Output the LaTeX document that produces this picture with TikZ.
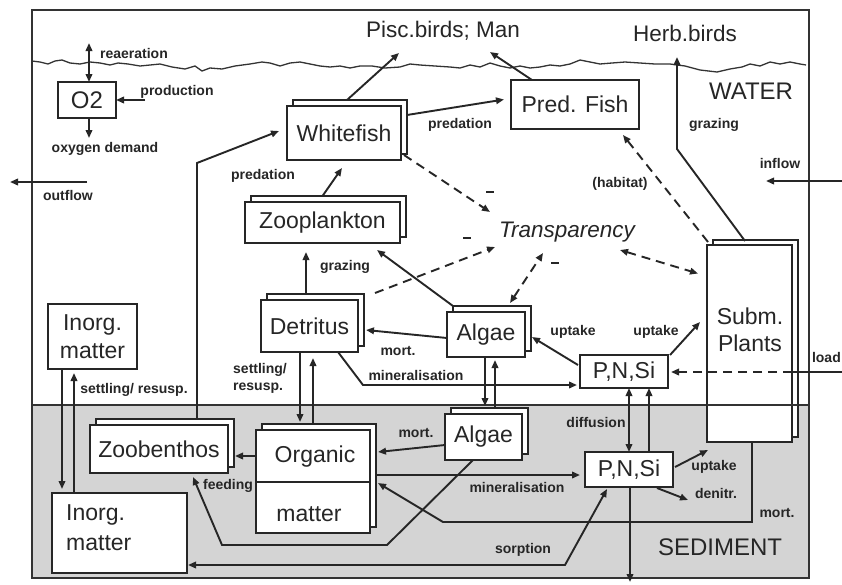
\documentclass[tikz,border=0pt]{standalone}
\usepackage{fontspec}
\setmainfont{Liberation Sans}
\usetikzlibrary{calc,arrows.meta,shadows}
\begin{document}
\begin{tikzpicture}[x=1pt,y=-1pt,
  bx/.style={draw=black!85, line width=2.3pt, fill=white, inner sep=0pt, outer sep=0pt, text=black!85, font=\fontsize{23}{27}\selectfont},
  stack/.style={copy shadow={shadow xshift=6pt, shadow yshift=6pt, draw=black!85, fill=white, line width=2.3pt}},
  arr/.style={draw=black!85, line width=1.9pt, -{Triangle[length=8pt,width=6.5pt]}},
  arrboth/.style={draw=black!85, line width=1.9pt, {Triangle[length=8pt,width=6.5pt]}-{Triangle[length=8pt,width=6.5pt]}},
  darr/.style={arr, dash pattern=on 9pt off 6pt},
  darrboth/.style={arrboth, dash pattern=on 9pt off 6pt},
  plain/.style={draw=black!85, line width=1.9pt},
  lbl/.style={inner sep=0pt, text=black!85, font=\fontsize{14}{17}\selectfont\bfseries},
  big/.style={inner sep=0pt, text=black!85, font=\fontsize{22.5}{26}\selectfont},
  frame/.style={draw=black!80, line width=1.3pt},
  minus/.style={draw=black!85, line width=2.6pt}
]
\useasboundingbox (0,0) rectangle (842,584);
\fill[white] (0,0) rectangle (842,584);
% sediment
\fill[black!17] (32,405) rectangle (809,578);
% frame
\draw[frame] (32,578) -- (32,10) -- (809,10) -- (809,578) -- cycle;
\draw[frame] (32,405) -- (809,405);
% water surface
\draw[draw=black!80, line width=1.3pt, line join=round] plot coordinates {
(32,61) (40,62) (48,64) (55,61) (62,60) (70,63) (80,64) (90,62) (100,63) (110,65) (118,63) (128,64) (140,66) (150,65) (160,64) (172,67) (185,69) (195,66) (202,71) (210,68) (222,69) (235,66) (250,64) (262,62) (270,63) (280,66) (290,63) (300,62) (310,64) (320,66) (330,67) (340,66) (350,68) (360,66) (372,66) (385,68) (400,67) (410,64) (420,65) (435,66) (450,67) (460,68) (470,65) (480,67) (490,63) (500,66) (510,68) (520,66) (530,68) (540,67) (550,65) (560,66) (570,64) (580,60) (590,62) (600,64) (612,63) (625,62) (640,63) (655,64) (670,64) (685,66) (700,70) (717,72) (730,69) (742,67) (750,64) (760,66) (770,62) (780,64) (790,62) (800,64) (806,65)};

% texts
\node[big] (pisc) at (443,31) {Pisc.birds; Man};
\node[big] (herb) at (685,33) {Herb.birds};
\node[big, font=\fontsize{22.5}{26}\selectfont\itshape] (transp) at (567,232) {Transparency};
\node[big, font=\fontsize{24}{28}\selectfont] (water) at (751,91) {WATER};
\node[big, font=\fontsize{24}{28}\selectfont] (sedim) at (720,547) {SEDIMENT};

% boxes
\node[bx, line width=1.5pt, minimum width=58pt, minimum height=36pt, font=\fontsize{24}{28}\selectfont] (o2) at (87,100) {O2};
\node[bx, stack, minimum width=114pt, minimum height=54pt] (wf) at (344,133) {Whitefish};
\node[bx, minimum width=128pt, minimum height=49pt] (pf) at (575,104.5) {Pred. Fish};
\node[bx, stack, minimum width=155pt, minimum height=41pt] (zp) at (322.5,222.5) {Zooplankton};
\node[bx, stack, minimum width=97pt, minimum height=52pt] (det) at (309.5,326) {Detritus};
\node[bx, stack, minimum width=78pt, minimum height=45pt] (alw) at (486,334.5) {Algae};
\node[bx, minimum width=88pt, minimum height=33pt] (pnw) at (624,371.5) {P,N,Si};
\node[bx, copy shadow={shadow xshift=6pt, shadow yshift=5pt, draw=black!85, fill=white, line width=2.3pt}, minimum width=85pt, minimum height=197pt] (sp) at (749.5,343.5) {};
\draw[frame] (sp.west |- 0,405) -- ($(sp.east |- 0,405)+(6,0)$);
\node[big, font=\fontsize{23}{27}\selectfont, align=center] (sptext) at (750,330) {Subm.\\Plants};
\node[bx, minimum width=89pt, minimum height=65pt, align=center, font=\fontsize{23}{28}\selectfont] (imw) at (92.5,336.5) {Inorg.\\matter};
\node[bx, stack, minimum width=138pt, minimum height=48pt] (zb) at (159,449) {Zoobenthos};
\node[bx, stack, minimum width=114pt, minimum height=103pt] (om) at (313,481.5) {};
\draw[draw=black!85, line width=2pt] (om.west |- 0,482) -- (om.east |- 0,482);
\node[big, font=\fontsize{23}{27}\selectfont] (omt1) at (315,457) {Organic};
\node[big, font=\fontsize{23}{27}\selectfont] (omt2) at (309,514) {matter};
\node[bx, stack, minimum width=77pt, minimum height=46pt] (als) at (483.5,437) {Algae};
\node[bx, minimum width=88pt, minimum height=35pt] (pns) at (629,469.5) {P,N,Si};
\node[bx, minimum width=135pt, minimum height=80pt] (ims) at (119.5,533) {};
\node[big, font=\fontsize{23}{30}\selectfont, align=left, anchor=west] (imstext) at (66,528) {Inorg.\\matter};

% free-end coordinates
\coordinate (outA) at (87,182);
\coordinate (outB) at (10,182);
\coordinate (inA) at (842,181);
\coordinate (inB) at (766,181);
\coordinate (loadA) at (842,372);
\coordinate (pisc1) at (399,53);
\coordinate (pisc2) at (490,52);
\coordinate (tr1) at (490,212);
\coordinate (tr2) at (495,247);
\coordinate (tr3) at (543,253);
\coordinate (tr4) at (620,250);

% O2
\draw[arrboth] ($(o2.north)+(2,0)$) -- ++(0,-39);
\draw[arr] ($(o2.east)+(29,0)$) -- (o2.east);
\draw[arr] ($(o2.south)+(2,0)$) -- ++(0,20);
% in/out flow
\draw[arr] (outA) -- (outB);
\draw[arr] (inA) -- (inB);
% top level
\draw[arr] ($(wf.north)+(3,-6)$) -- (pisc1);
\draw[arr] ($(pf.north)+(-43,0)$) -- (pisc2);
\draw[arr] ($(wf.east)+(6,-18)$) -- ($(pf.west)+(-7,-5)$);
\draw[arr] ($(zp.north)+(0,-6)$) -- ($(wf.south)+(-2,8)$);
\draw[arr] ($(zb.north)+(38,-7)$) -- ++(0,-255) -- ($(wf.west)+(-8,-2)$);
\draw[darr] ($(wf.south east)+(3,-5)$) -- (tr1);
\draw[arr] ($(det.north)+(-3.5,-6)$) -- ($(zp.south)+(-16.5,9)$);
\draw[darr] ($(det.north east)+(17,-7)$) -- (tr2);
\draw[arr] ($(alw.north west)+(6,-6)$) -- ($(zp.south east)+(-23,7)$);
\draw[darrboth] ($(alw.north)+(24,-9)$) -- (tr3);
\draw[darrboth] (tr4) -- ($(sp.west)+(-9,-70)$);
\draw[darr] ($(sp.north west)+(1,-3)$) -- ($(pf.south east)+(-16,6)$);
\draw[arr] ($(sp.north)+(-4.5,-4)$) -- ++(-68,-92) -- ++(0,-92);
\draw[arr] ($(alw.west)+(0,3.5)$) -- ($(det.east)+(8,4)$);
\draw[arr] ($(det.south)+(28.5,0)$) -- ++(25,33) -- ($(pnw.west)+(-3,13.5)$);
\draw[arr] ($(pnw.west)+(-2,-6.5)$) -- ($(alw.east)+(7,2.5)$);
\draw[arr] ($(pnw.north east)+(2,0)$) -- ($(sp.west)+(-7,-21.5)$);
\draw[plain] (loadA) -- (sp.east |- loadA);
\draw[darr] (sp.east |- loadA) -- ($(pnw.east)+(3,0.5)$);
% water-sediment exchanges
\draw[arr] ($(alw.south)+(-1,0)$) -- ($(als.north)+(1.5,-8)$);
\draw[arr] ($(als.north)+(11.5,-6)$) -- ($(alw.south)+(9,3)$);
\draw[arr] ($(det.south)+(-9.5,0)$) -- ($(om.north)+(-13,-8)$);
\draw[arr] ($(om.north)+(0,-6)$) -- ($(det.south)+(3.5,6)$);
\draw[arr] ($(imw.south)+(-30.5,0)$) -- ($(ims.north)+(-57.5,-4)$);
\draw[arr] ($(ims.north)+(-45.5,0)$) -- ($(imw.south)+(-18.5,4)$);
\draw[arrboth] ($(pnw.south)+(5,0)$) -- (pns.north);
\draw[arr] ($(pns.north)+(20,0)$) -- ($(pnw.south)+(25,0)$);
% sediment
\draw[arr] ($(om.west)+(0,-25.5)$) -- ($(zb.east)+(7,7)$);
\draw[arr] ($(als.west)+(0,8)$) -- ($(om.east)+(8,-29.5)$);
\draw[arr] ($(om.east)+(6,-6.5)$) -- ($(pns.west)+(-5,5.5)$);
\draw[arr] ($(als.south)+(-10.5,0)$) -- ++(-86,85) -- ++(-165,0) -- ($(zb.south)+(34,4)$);
\draw[arr] ($(sp.south)+(2.5,0)$) -- ++(0,80) -- ++(-309,0) -- ($(om.east)+(8,1.5)$);
\draw[arrboth] ($(pns.south)+(-22,2)$) -- ++(-42,76) -- ($(ims.east)+(1,32)$);
\draw[arr] ($(pns.east)+(2,-2.5)$) -- ($(sp.south west)+(1,8)$);
\draw[arr] ($(pns.south east)+(-16,1)$) -- ++(31,12);
\draw[arr] ($(pns.south)+(1,0)$) -- ++(0,95);

% labels
\node[lbl] (l1) at (134,53) {reaeration};
\node[lbl] (l2) at (177,92) {production};
\node[lbl] (l3) at (105,149) {oxygen demand};
\node[lbl] (l4) at (68,195) {outflow};
\node[lbl] (l5) at (460,125) {predation};
\node[lbl] (l6) at (263,176) {predation};
\node[lbl] (l7) at (345,267) {grazing};
\node[lbl] (l8) at (714,125) {grazing};
\node[lbl] (l9) at (620,184) {(habitat)};
\node[lbl] (l10) at (780,163) {inflow};
\node[lbl] (l11) at (398,351) {mort.};
\node[lbl] (l12) at (416,375) {mineralisation};
\node[lbl] (l13) at (573,332) {uptake};
\node[lbl] (l14) at (656,332) {uptake};
\node[lbl, anchor=east] (l15) at (841,357) {load};
\node[lbl] (l16) at (134,390) {settling/ resusp.};
\node[lbl, align=left, anchor=west] (l17) at (233,378) {settling/\\resusp.};
\node[lbl] (l18) at (228,486) {feeding};
\node[lbl] (l19) at (416,433) {mort.};
\node[lbl] (l20) at (517,487) {mineralisation};
\node[lbl] (l21) at (523,550) {sorption};
\node[lbl] (l22) at (596,422) {diffusion};
\node[lbl] (l23) at (714,467) {uptake};
\node[lbl] (l24) at (716,493) {denitr.};
\node[lbl] (l25) at (777,513) {mort.};
% minus signs
\coordinate (m1) at (490,192);
\coordinate (m2) at (467,238);
\coordinate (m3) at (555,263);
\draw[minus] ($(m1)+(-4,0)$) -- ($(m1)+(4,0)$);
\draw[minus] ($(m2)+(-4,0)$) -- ($(m2)+(4,0)$);
\draw[minus] ($(m3)+(-4,0)$) -- ($(m3)+(4,0)$);
\end{tikzpicture}
\end{document}
